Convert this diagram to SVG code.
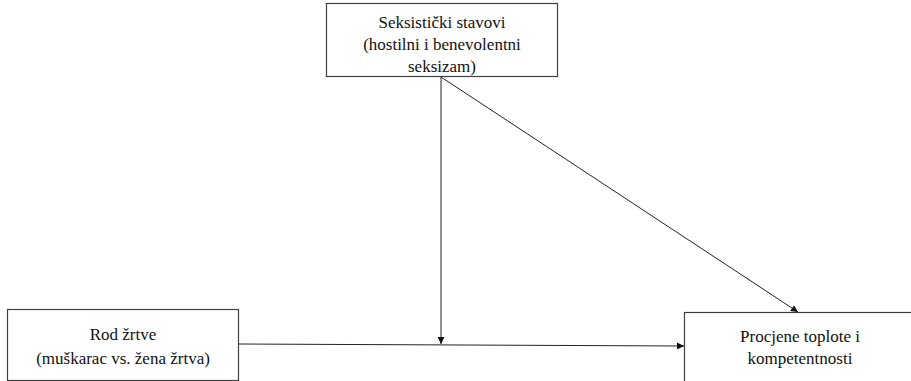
<svg xmlns="http://www.w3.org/2000/svg" width="911" height="381" viewBox="0 0 911 381">
<style>
.box{fill:#fff;stroke:#404040;stroke-width:1.2}
.t{font-family:'Liberation Serif','DejaVu Serif',serif;font-size:17px;fill:#111;text-anchor:middle}
.c{stroke:#222;stroke-width:1;fill:none}
</style>
<defs>
<marker id="ah" viewBox="0 0 10 10" refX="10" refY="5" markerWidth="9" markerHeight="7" markerUnits="userSpaceOnUse" orient="auto">
<path d="M0,0 L10,5 L0,10 Z" fill="#111"/>
</marker>
</defs>
<rect width="911" height="381" fill="#fff"/>
<g id="connectors">
<line class="c" x1="441" y1="77" x2="441" y2="344" marker-end="url(#ah)"/>
<line class="c" x1="441" y1="77" x2="798" y2="312" marker-end="url(#ah)"/>
<line class="c" x1="239" y1="344" x2="684" y2="346" marker-end="url(#ah)"/>
</g>
<g id="node-seksizam">
<rect class="box" x="326.5" y="3.5" width="231" height="73"/>
<text class="t" x="442" y="28">Seksistički stavovi</text>
<text class="t" x="442" y="50">(hostilni i benevolentni</text>
<text class="t" x="442" y="72">seksizam)</text>
</g>
<g id="node-rod">
<rect class="box" x="7.5" y="309.5" width="231" height="71"/>
<text class="t" x="123" y="340">Rod žrtve</text>
<text class="t" x="123" y="364">(muškarac vs. žena žrtva)</text>
</g>
<g id="node-procjene">
<rect class="box" x="684.5" y="312.5" width="232" height="75"/>
<text class="t" x="800" y="342">Procjene toplote i</text>
<text class="t" x="800" y="364">kompetentnosti</text>
</g>
</svg>
